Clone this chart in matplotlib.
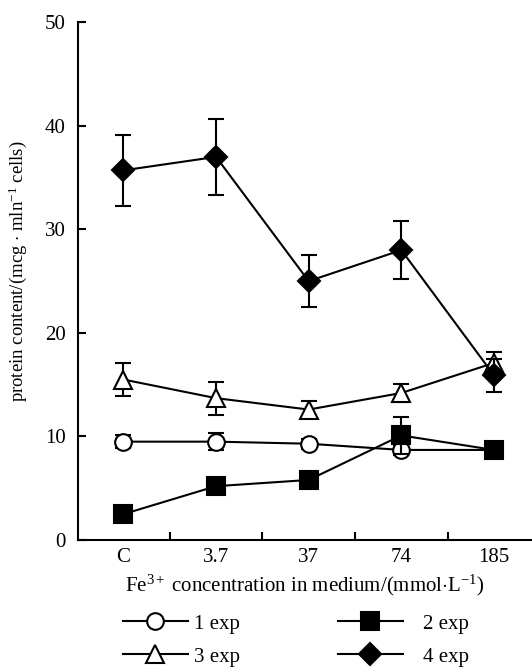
import matplotlib
matplotlib.use("Agg")
import matplotlib.pyplot as plt
from matplotlib.lines import Line2D

# ------------------------------------------------------------------
# data
# ------------------------------------------------------------------
categories = ["C", "3.7", "37", "74", "185"]

exp1 = [9.5, 9.5, 9.3, 8.7, 8.7]
exp1_err = [0.6, 0.8, 0.5, 0.5, 0.3]

exp2 = [2.5, 5.2, 5.8, 10.1, 8.7]
exp2_err = [0.4, 0.6, 0.5, 1.8, 0.4]

exp3 = [15.5, 13.7, 12.6, 14.2, 17.1]
exp3_err = [1.6, 1.6, 0.8, 0.9, 1.1]

exp4 = [35.7, 37.0, 25.0, 28.0, 15.9]
exp4_err = [3.4, 3.7, 2.5, 2.8, 1.6]

y_ticks = [0, 10, 20, 30, 40, 50]

# ------------------------------------------------------------------
# style
# ------------------------------------------------------------------
plt.rcParams["font.family"] = ["Liberation Serif", "DejaVu Serif"]
plt.rcParams["mathtext.fontset"] = "custom"
plt.rcParams["mathtext.rm"] = "Liberation Serif"
plt.rcParams["mathtext.it"] = "Liberation Serif:italic"
FS = 15
LW = 1.5

fig = plt.figure(figsize=(5.32, 6.71), dpi=100)
ax = fig.add_axes([0.1466, 0.1952, 0.8534, 0.7716])

x = list(range(len(categories)))
common = dict(color="black", lw=LW, elinewidth=LW, capsize=6, capthick=LW)

ax.errorbar(x, exp1, yerr=exp1_err, marker="o", ms=12, mfc="white",
            mec="black", mew=LW, zorder=3, **common)
ax.errorbar(x, exp3, yerr=exp3_err, marker="^", ms=13, mfc="white",
            mec="black", mew=LW, zorder=3, **common)
ax.errorbar(x, exp4, yerr=exp4_err, marker="D", ms=11.5, mfc="black",
            mec="black", mew=LW, zorder=4, **common)
ax.errorbar(x, exp2, yerr=exp2_err, marker="s", ms=13.5, mfc="black",
            mec="black", mew=LW, zorder=5, **common)

ax.set_xlim(-0.49, 4.41)
ax.set_ylim(0, 50)
ax.set_yticks(y_ticks)
ax.set_xticks(x)
ax.set_xticklabels(categories)
ax.set_xticks([0.5, 1.5, 2.5, 3.5], minor=True)

ax.tick_params(axis="x", which="major", length=0, pad=6, labelsize=FS)
ax.tick_params(axis="x", which="minor", direction="in", length=6, width=LW)
ax.tick_params(axis="y", direction="in", length=6, width=LW, pad=9,
               labelsize=FS)

for side in ["top", "right"]:
    ax.spines[side].set_visible(False)
for side in ["left", "bottom"]:
    ax.spines[side].set_linewidth(LW)

ax.set_xlabel(r"Fe$^{3+}$ concentration in medium/(mmol$\cdot$L$^{-1}$)",
              fontsize=FS, labelpad=4)
ax.set_ylabel(r"protein content/(mcg $\cdot$ mln$^{-1}$ cells)",
              fontsize=13.5)
ax.yaxis.set_label_coords(-0.108, 0.52)

# ------------------------------------------------------------------
# legend: two columns below the axes
# ------------------------------------------------------------------
def handle(marker, ms, fill):
    return Line2D([], [], color="black", lw=LW, marker=marker, ms=ms,
                  mfc=fill, mec="black", mew=LW)

leg_kw = dict(frameon=False, fontsize=FS, loc="upper left", borderpad=0,
              borderaxespad=0, handlelength=3.1, labelspacing=0.65)

leg1 = fig.legend([handle("o", 12, "white"), handle("^", 13, "white")],
                  ["1 exp", "3 exp"], bbox_to_anchor=(123 / 532, 1 - 614 / 671),
                  handletextpad=0.3, **leg_kw)
leg2 = fig.legend([handle("s", 13.5, "black"), handle("D", 11.5, "black")],
                  ["2 exp", "4 exp"], bbox_to_anchor=(338 / 532, 1 - 614 / 671),
                  handletextpad=1.0, **leg_kw)

fig.savefig("out.png", dpi=100)
